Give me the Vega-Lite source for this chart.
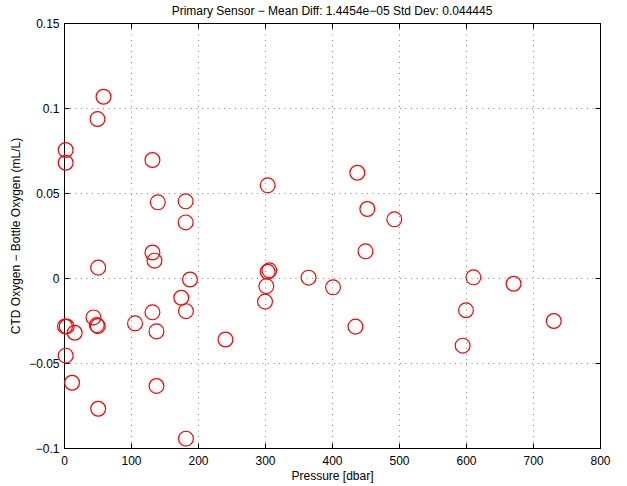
{
  "$schema": "https://vega.github.io/schema/vega-lite/v6.json",
  "autosize": "none",
  "width": 536,
  "height": 425,
  "padding": {"left": 64, "top": 23, "right": 27, "bottom": 38},
  "background": "white",
  "config": {
    "font": "Liberation Sans",
    "view": {"stroke": "black", "strokeWidth": 1},
    "axis": {
      "labelFont": "Liberation Sans",
      "titleFont": "Liberation Sans",
      "labelFontSize": 12,
      "titleFontSize": 12,
      "titleFontWeight": "normal",
      "labelColor": "black",
      "titleColor": "black",
      "domainColor": "black",
      "tickColor": "black",
      "gridColor": "#888888",
      "gridDash": [1, 4.5],
      "gridWidth": 1,
      "tickSize": -5
    },
    "title": {"font": "Liberation Sans", "fontSize": 12, "fontWeight": "normal", "color": "black", "offset": -1}
  },
  "title": "Primary Sensor \u2212 Mean Diff: 1.4454e\u221205 Std Dev: 0.044445",
  "data": {
    "values": [
      {"p": 59, "d": 0.1066},
      {"p": 50, "d": 0.0935},
      {"p": 2.5, "d": 0.0753},
      {"p": 2.5, "d": 0.0678},
      {"p": 132, "d": 0.0694},
      {"p": 140, "d": 0.0445},
      {"p": 181.6, "d": 0.0451},
      {"p": 181.6, "d": 0.0327},
      {"p": 132, "d": 0.015},
      {"p": 135, "d": 0.0102},
      {"p": 51, "d": 0.0061},
      {"p": 188, "d": -0.0009},
      {"p": 175, "d": -0.0116},
      {"p": 132, "d": -0.0202},
      {"p": 182, "d": -0.0195},
      {"p": 44, "d": -0.0232},
      {"p": 1.5, "d": -0.0285},
      {"p": 4, "d": -0.0285},
      {"p": 16, "d": -0.0322},
      {"p": 49, "d": -0.0277},
      {"p": 50.5, "d": -0.0283},
      {"p": 106, "d": -0.0267},
      {"p": 138, "d": -0.0314},
      {"p": 241, "d": -0.0362},
      {"p": 2.5, "d": -0.0457},
      {"p": 12, "d": -0.0616},
      {"p": 138, "d": -0.0635},
      {"p": 51, "d": -0.0769},
      {"p": 182, "d": -0.0945},
      {"p": 437.8, "d": 0.0619},
      {"p": 304, "d": 0.0545},
      {"p": 452.7, "d": 0.0406},
      {"p": 493, "d": 0.0345},
      {"p": 450, "d": 0.0157},
      {"p": 306.5, "d": 0.0045},
      {"p": 304, "d": 0.0037},
      {"p": 365, "d": 0.0002},
      {"p": 302, "d": -0.0048},
      {"p": 401.5, "d": -0.0055},
      {"p": 300, "d": -0.0139},
      {"p": 435, "d": -0.0286},
      {"p": 611, "d": 0.0004},
      {"p": 671, "d": -0.0034},
      {"p": 600, "d": -0.019},
      {"p": 731, "d": -0.0253},
      {"p": 595, "d": -0.0398}
    ]
  },
  "layer": [
    {
      "mark": {"type": "point", "shape": "circle", "filled": false, "color": "#ff0000", "strokeWidth": 1.2, "size": 220, "opacity": 1, "clip": false},
      "encoding": {
        "x": {
          "field": "p", "type": "quantitative",
          "scale": {"domain": [0, 800], "nice": false, "zero": false},
          "axis": {"orient": "bottom", "values": [0, 100, 200, 300, 400, 500, 600, 700, 800], "title": "Pressure [dbar]", "labelPadding": 12, "labelFlush": false, "titlePadding": 4, "grid": true, "format": "d"}
        },
        "y": {
          "field": "d", "type": "quantitative",
          "scale": {"domain": [-0.1, 0.15], "nice": false, "zero": false},
          "axis": {"orient": "left", "values": [-0.1, -0.05, 0, 0.05, 0.1, 0.15], "labelExpr": "replace(toString(datum.value), '-', '\u2212')", "labelFlush": false, "title": "CTD Oxygen  \u2212 Bottle Oxygen (mL/L)", "labelPadding": 10, "titlePadding": 6, "grid": true}
        }
      }
    },
    {
      "mark": {"type": "point", "opacity": 0},
      "encoding": {
        "x": {
          "field": "p", "type": "quantitative",
          "scale": {"domain": [0, 800], "nice": false, "zero": false},
          "axis": {"orient": "top", "values": [0, 100, 200, 300, 400, 500, 600, 700, 800], "labels": false, "title": null, "grid": false}
        },
        "y": {
          "field": "d", "type": "quantitative",
          "scale": {"domain": [-0.1, 0.15], "nice": false, "zero": false},
          "axis": {"orient": "right", "values": [-0.1, -0.05, 0, 0.05, 0.1, 0.15], "labels": false, "title": null, "grid": false}
        }
      }
    }
  ],
  "resolve": {"axis": {"x": "independent", "y": "independent"}}
}
